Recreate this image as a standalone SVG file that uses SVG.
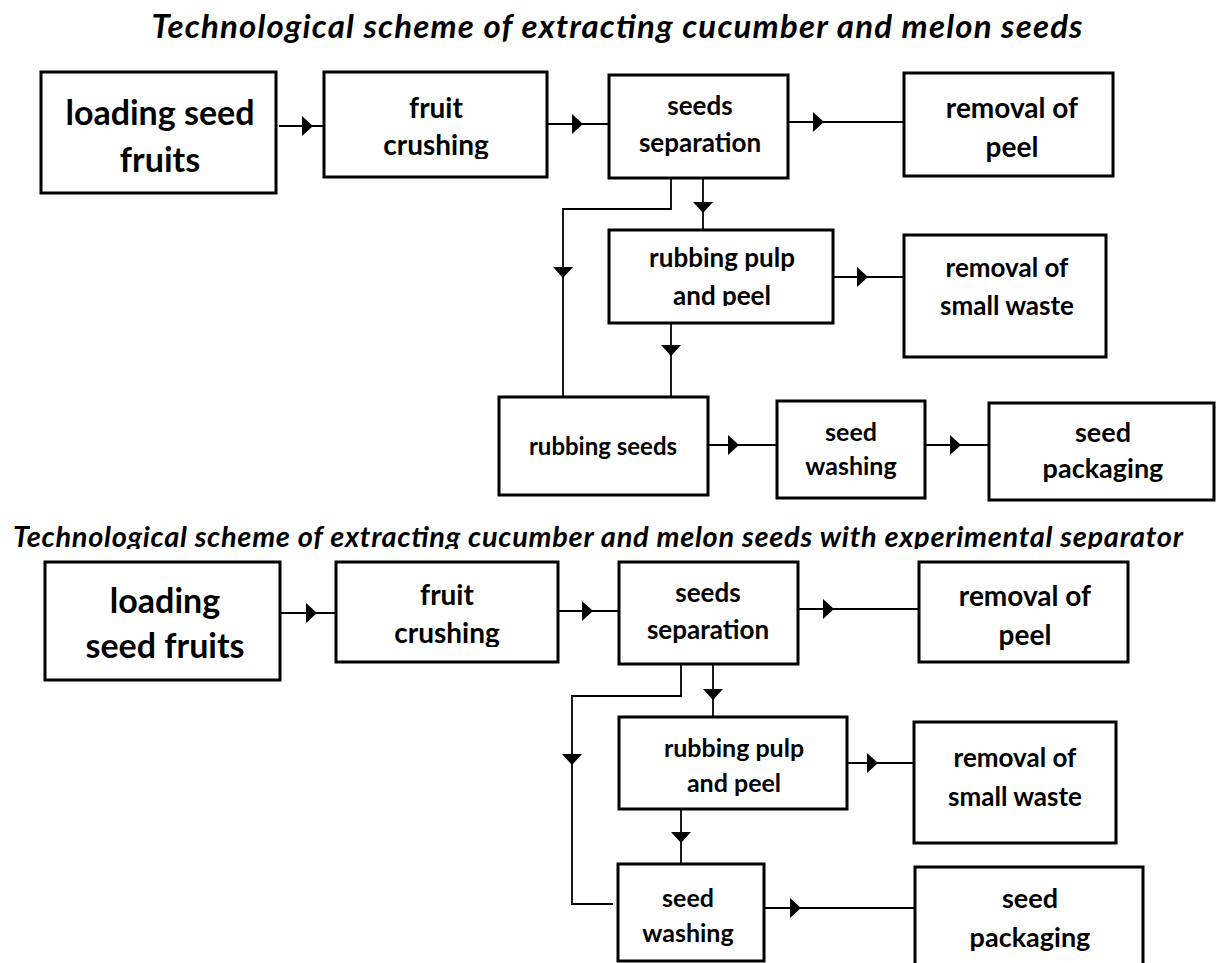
<svg xmlns="http://www.w3.org/2000/svg" xmlns:xlink="http://www.w3.org/1999/xlink" width="1218" height="963" viewBox="0 0 1218 963">
<style>
.box{fill:#fff;stroke:#000;stroke-width:3}
.ln{fill:none;stroke:#000;stroke-width:1.8}
.ah{fill:#000}
text{font-family:Lato,"Liberation Sans",sans-serif;font-weight:700;fill:#000;text-anchor:middle}
.title{font-style:italic}
</style>
<defs>
<path id="ah" d="M0,-10 L11,0 L0,10 Z"/>
<clipPath id="cT2"><rect x="0" y="500" width="1218" height="49"/></clipPath>
<clipPath id="cB1"><rect x="324" y="72" width="223" height="87"/></clipPath>
<clipPath id="cP1"><rect x="609" y="230" width="224" height="76"/></clipPath>
<clipPath id="cB2"><rect x="336" y="562" width="222" height="85"/></clipPath>
</defs>
<rect width="1218" height="963" fill="#fff"/>

<text class="title" x="617" y="38" font-size="33" textLength="931">Technological scheme of extracting cucumber and melon seeds</text>

<g id="connectors-top">
<path class="ln" d="M279,126 H324"/>
<use href="#ah" class="ah" transform="translate(302,126)"/>
<path class="ln" d="M547,124 H609"/>
<use href="#ah" class="ah" transform="translate(572,124)"/>
<path class="ln" d="M788,122 H904"/>
<use href="#ah" class="ah" transform="translate(813,122)"/>
<path class="ln" d="M703,178 V230"/>
<use href="#ah" class="ah" transform="translate(703,202) rotate(90)"/>
<path class="ln" d="M671,178 V209 H563 V397"/>
<use href="#ah" class="ah" transform="translate(563,267) rotate(90)"/>
<path class="ln" d="M833,277 H904"/>
<use href="#ah" class="ah" transform="translate(857,277)"/>
<path class="ln" d="M671,323 V397"/>
<use href="#ah" class="ah" transform="translate(671,345) rotate(90)"/>
<path class="ln" d="M708,445 H777"/>
<use href="#ah" class="ah" transform="translate(728,445)"/>
<path class="ln" d="M925,445 H989"/>
<use href="#ah" class="ah" transform="translate(950,445)"/>
</g>

<g id="t-loading">
<rect class="box" x="41" y="72" width="235" height="121"/>
<text x="160" y="125" font-size="34">loading seed</text>
<text x="160" y="172" font-size="34">fruits</text>
</g>
<g id="t-crushing">
<rect class="box" x="324" y="72" width="223" height="105"/>
<g clip-path="url(#cB1)">
<text x="436" y="118" font-size="28">fruit</text>
<text x="436" y="155" font-size="28">crushing</text>
</g>
</g>
<g id="t-separation">
<rect class="box" x="609" y="75" width="179" height="103"/>
<text x="700" y="115" font-size="26">seeds</text>
<text x="700" y="152" font-size="26">separation</text>
</g>
<g id="t-peel">
<rect class="box" x="904" y="73" width="209" height="103"/>
<text x="1012" y="118" font-size="28">removal of</text>
<text x="1012" y="157" font-size="28">peel</text>
</g>
<g id="t-pulp">
<rect class="box" x="609" y="230" width="224" height="93"/>
<g clip-path="url(#cP1)">
<text x="722" y="267" font-size="26">rubbing pulp</text>
<text x="722" y="305" font-size="26">and peel</text>
</g>
</g>
<g id="t-smallwaste">
<rect class="box" x="904" y="235" width="202" height="122"/>
<text x="1007" y="277" font-size="26">removal of</text>
<text x="1007" y="315" font-size="26">small waste</text>
</g>
<g id="t-rubseeds">
<rect class="box" x="499" y="397" width="209" height="98"/>
<text x="603" y="455" font-size="24">rubbing seeds</text>
</g>
<g id="t-washing">
<rect class="box" x="777" y="401" width="148" height="97"/>
<text x="851" y="441" font-size="25">seed</text>
<text x="851" y="475" font-size="25">washing</text>
</g>
<g id="t-packaging">
<rect class="box" x="989" y="403" width="225" height="97"/>
<text x="1103" y="442" font-size="27">seed</text>
<text x="1103" y="478" font-size="27">packaging</text>
</g>

<g clip-path="url(#cT2)">
<text class="title" x="598" y="547" font-size="29" textLength="1170">Technological scheme of extracting cucumber and melon seeds with experimental separator</text>
</g>

<g id="connectors-bottom">
<path class="ln" d="M280,613 H336"/>
<use href="#ah" class="ah" transform="translate(306,613)"/>
<path class="ln" d="M558,611 H619"/>
<use href="#ah" class="ah" transform="translate(582,611)"/>
<path class="ln" d="M798,609 H919"/>
<use href="#ah" class="ah" transform="translate(823,609)"/>
<path class="ln" d="M713,664 V717"/>
<use href="#ah" class="ah" transform="translate(713,689) rotate(90)"/>
<path class="ln" d="M681,664 V696 H572 V904 H613"/>
<use href="#ah" class="ah" transform="translate(572,754) rotate(90)"/>
<path class="ln" d="M847,763 H914"/>
<use href="#ah" class="ah" transform="translate(867,763)"/>
<path class="ln" d="M681,809 V864"/>
<use href="#ah" class="ah" transform="translate(681,832) rotate(90)"/>
<path class="ln" d="M764,908 H915"/>
<use href="#ah" class="ah" transform="translate(790,908)"/>
</g>

<g id="b-loading">
<rect class="box" x="45" y="562" width="235" height="118"/>
<text x="165" y="613" font-size="34">loading</text>
<text x="165" y="658" font-size="34">seed fruits</text>
</g>
<g id="b-crushing">
<rect class="box" x="336" y="562" width="222" height="100"/>
<g clip-path="url(#cB2)">
<text x="447" y="605" font-size="28">fruit</text>
<text x="447" y="643" font-size="28">crushing</text>
</g>
</g>
<g id="b-separation">
<rect class="box" x="619" y="562" width="179" height="102"/>
<text x="708" y="602" font-size="26">seeds</text>
<text x="708" y="639" font-size="26">separation</text>
</g>
<g id="b-peel">
<rect class="box" x="919" y="562" width="209" height="100"/>
<text x="1025" y="606" font-size="28">removal of</text>
<text x="1025" y="645" font-size="28">peel</text>
</g>
<g id="b-pulp">
<rect class="box" x="619" y="717" width="228" height="92"/>
<text x="734" y="757" font-size="25">rubbing pulp</text>
<text x="734" y="792" font-size="25">and peel</text>
</g>
<g id="b-smallwaste">
<rect class="box" x="914" y="722" width="202" height="121"/>
<text x="1015" y="767" font-size="26">removal of</text>
<text x="1015" y="806" font-size="26">small waste</text>
</g>
<g id="b-washing">
<rect class="box" x="618" y="864" width="146" height="97"/>
<text x="688" y="907" font-size="25">seed</text>
<text x="688" y="942" font-size="25">washing</text>
</g>
<g id="b-packaging">
<rect class="box" x="915" y="867" width="228" height="110"/>
<text x="1030" y="908" font-size="27">seed</text>
<text x="1030" y="947" font-size="27">packaging</text>
</g>
</svg>
